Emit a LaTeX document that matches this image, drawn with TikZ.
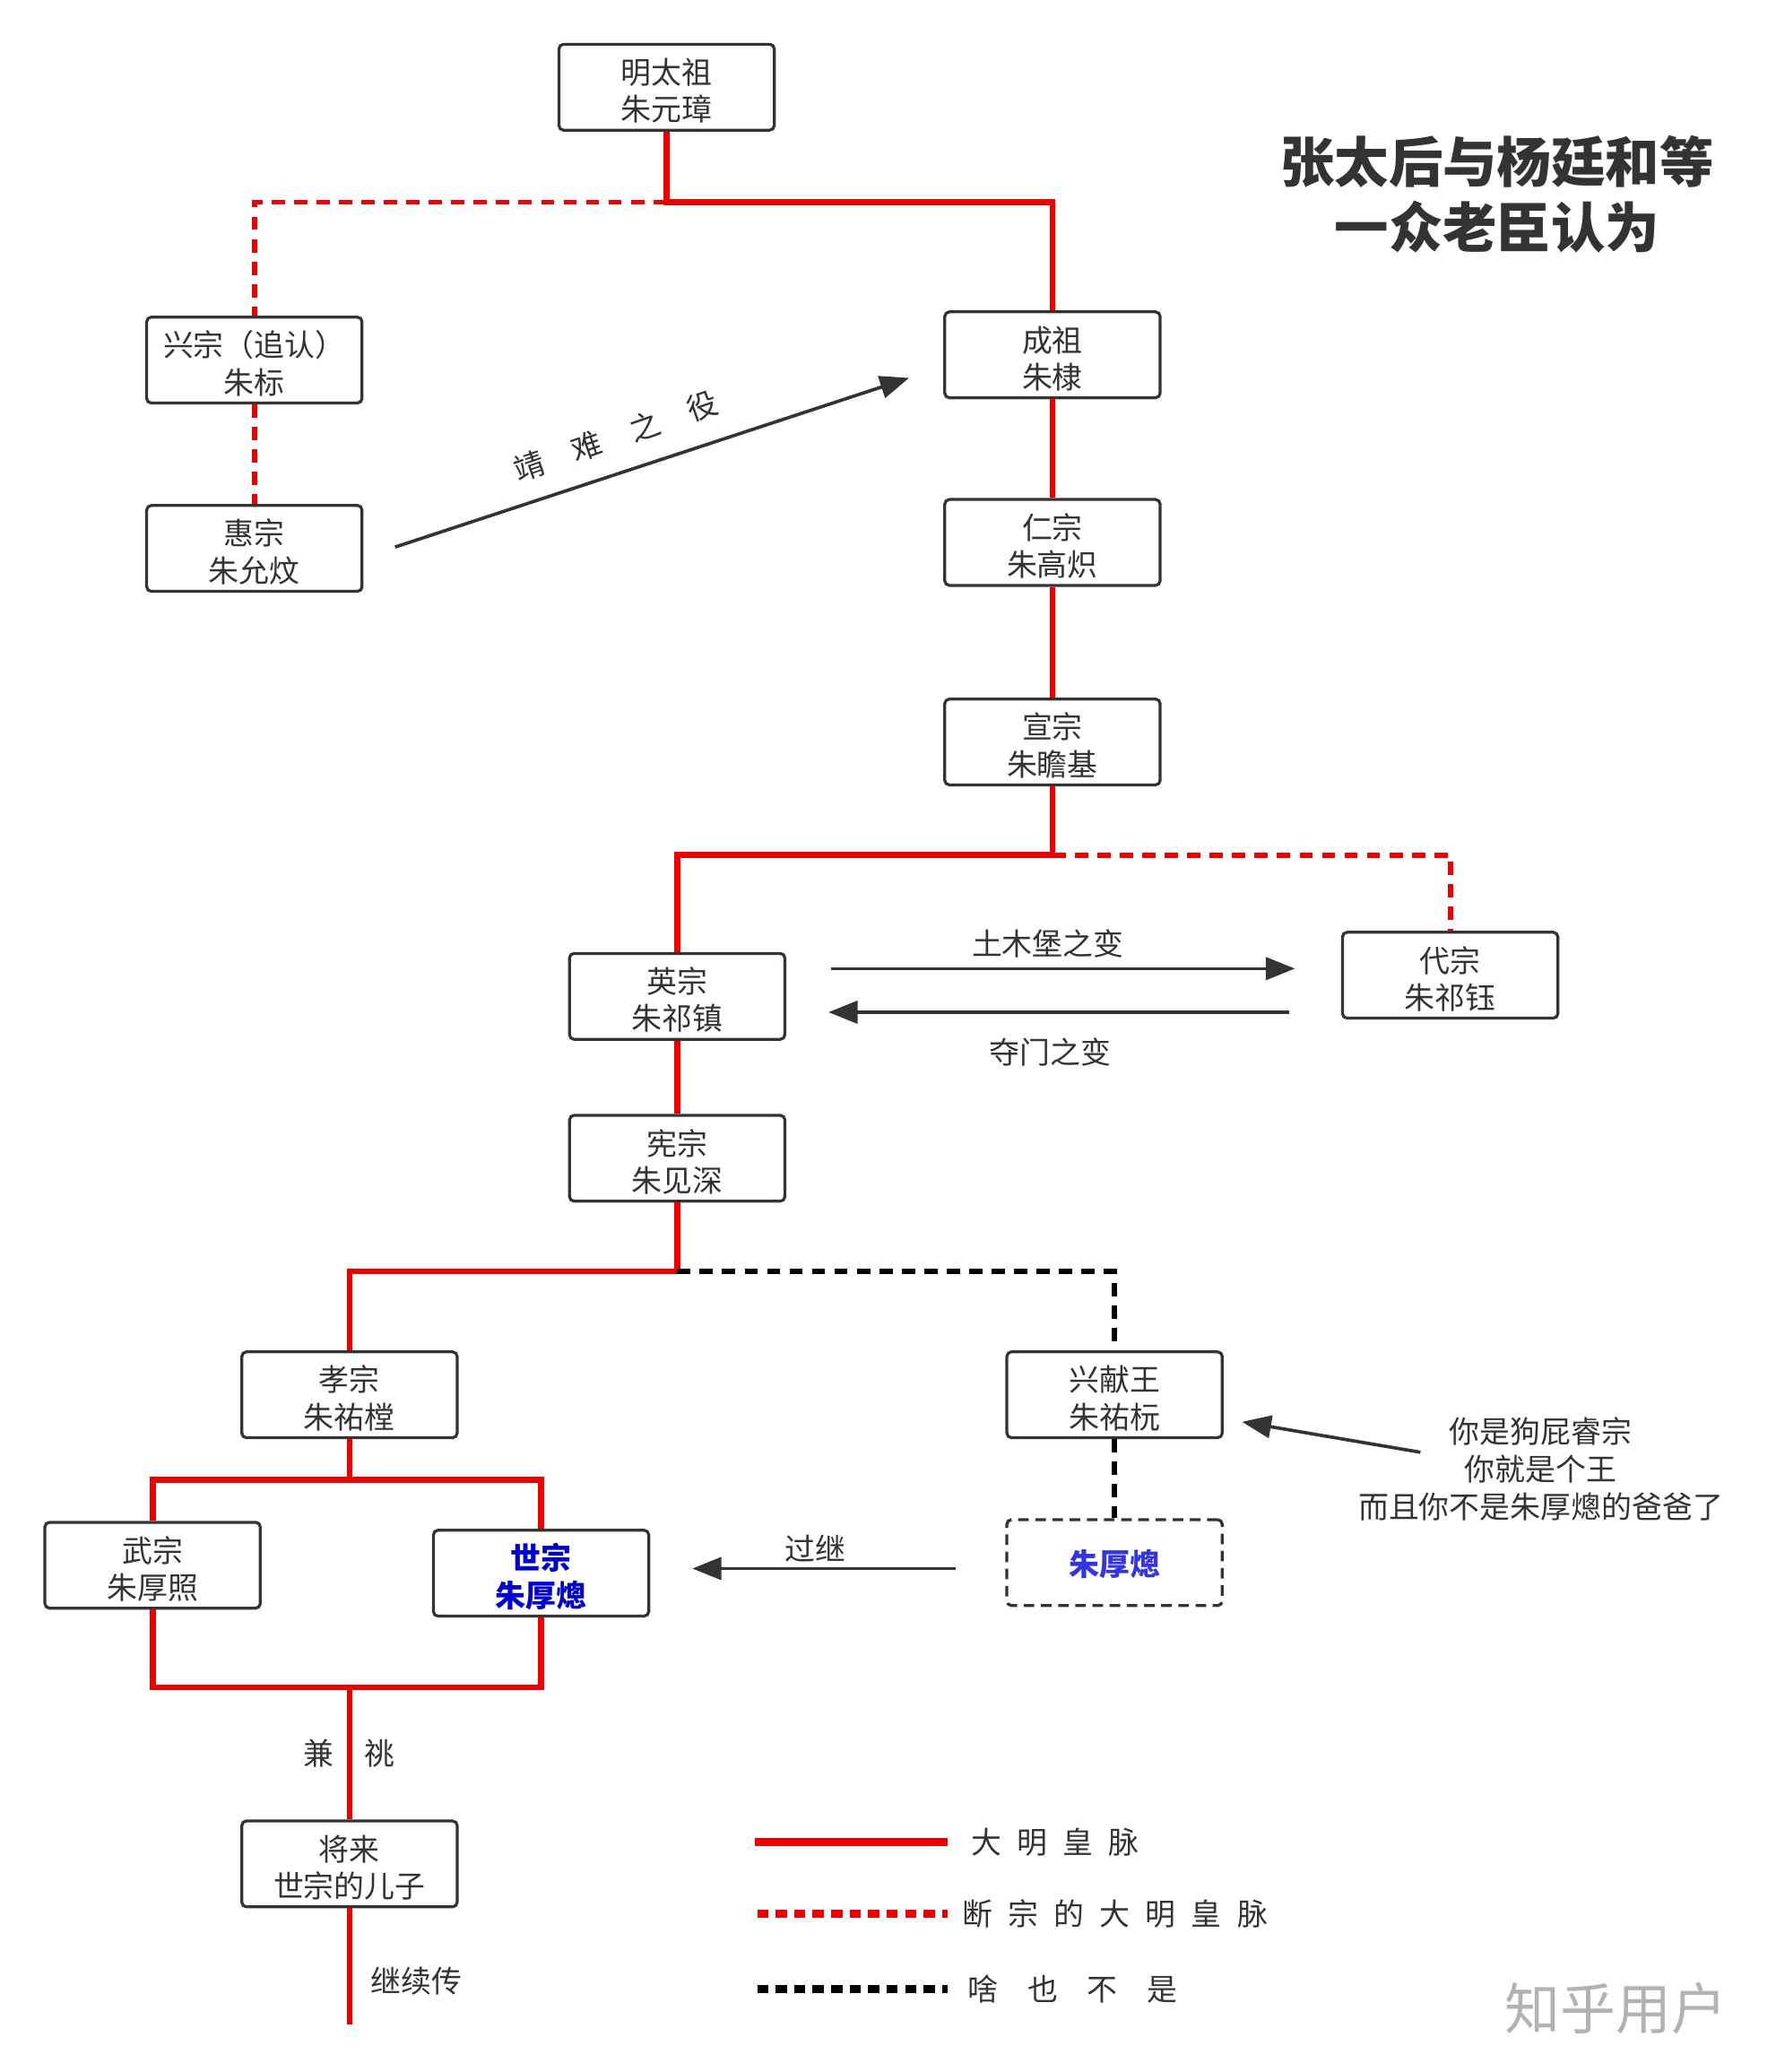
\documentclass[tikz,border=0pt]{standalone}
\usepackage{fontspec}
\setmainfont{Noto Sans CJK SC}
\usetikzlibrary{arrows.meta}
\definecolor{lred}{HTML}{EE0000}
\definecolor{bord}{HTML}{333333}
\definecolor{txt}{HTML}{333333}
\definecolor{blueA}{HTML}{0000CC}
\definecolor{blueB}{HTML}{3535DD}
\tikzset{
  box/.style={draw=bord, line width=2.2pt, rounded corners=3.5pt, minimum width=163pt,
    minimum height=65pt, align=center, fill=white, text=txt,
    font=\fontsize{23}{28}\selectfont, inner sep=0pt, text height=54pt, text depth=3pt},
  redline/.style={draw=lred, line width=4.5pt, line join=miter},
  reddash/.style={draw=lred, line width=4pt, dash pattern=on 10pt off 7pt},
  blackdash/.style={draw=black, line width=4pt, dash pattern=on 10pt off 7pt},
  garrow/.style={draw=bord, line width=2.5pt, -{Triangle[length=22pt,width=17pt]}},
  lbl/.style={text=txt, font=\fontsize{23}{28.5}\selectfont, inner sep=0pt},
}
\begin{document}
\begin{tikzpicture}[x=1pt,y=-1pt]
\fill[white] (0,0) rectangle (1344,1568);
\useasboundingbox (0,0) rectangle (1344,1568);

% title
\node[text=txt, font=\bfseries\fontsize{41}{50}\selectfont, align=center, inner sep=0pt] (title) at (1133,147) {张太后与杨廷和等\\一众老臣认为};

% boxes
\node[box] (taizu) at (504.5,66) {明太祖\\朱元璋};
\node[box] (xingzong) at (192.5,272.5) {兴宗（追认）\\朱标};
\node[box] (huizong) at (192.5,415) {惠宗\\朱允炆};
\node[box] (chengzu) at (796.5,268.5) {成祖\\朱棣};
\node[box] (renzong) at (796.5,410.5) {仁宗\\朱高炽};
\node[box] (xuanzong) at (796.5,561.5) {宣宗\\朱瞻基};
\node[box] (yingzong) at (512.5,754) {英宗\\朱祁镇};
\node[box] (daizong) at (1097.5,738) {代宗\\朱祁钰};
\node[box] (xianzong) at (512.5,876.5) {宪宗\\朱见深};
\node[box] (xiaozong) at (264.5,1055.5) {孝宗\\朱祐樘};
\node[box] (xingxian) at (843.5,1055.5) {兴献王\\朱祐杬};
\node[box] (wuzong) at (115.5,1184.5) {武宗\\朱厚照};
\node[box, text=blueA, font=\bfseries\fontsize{23}{28}\selectfont] (shizong) at (409.5,1190.5) {世宗\\朱厚熜};
\node[box, dash pattern=on 8pt off 5pt, text=blueB, font=\bfseries\fontsize{23}{28}\selectfont, text height=23pt, text depth=3pt] (houcong) at (843.5,1182.5) {朱厚熜};
\node[box] (jianglai) at (264.5,1410.5) {将来\\世宗的儿子};

% junctions
\coordinate (j1) at (504.5,153);
\coordinate (j2) at (796.5,647);
\coordinate (j3) at (512.5,962);
\coordinate (j4) at (264.5,1120);
\coordinate (j5) at (264.5,1277);
\coordinate (tail) at (264.5,1532);

% lineage lines
\draw[redline] (taizu.south) -- (j1) -| (chengzu.north);
\draw[reddash] (j1) -| (xingzong.north);
\draw[reddash] (xingzong.south) -- (huizong.north);
\draw[redline] (chengzu.south) -- (renzong.north);
\draw[redline] (renzong.south) -- (xuanzong.north);
\draw[redline] (xuanzong.south) -- (j2) -| (yingzong.north);
\draw[reddash] (j2) -| (daizong.north);
\draw[redline] (yingzong.south) -- (xianzong.north);
\draw[redline] (xianzong.south) -- (j3) -| (xiaozong.north);
\draw[blackdash] (j3) -| (xingxian.north);
\draw[redline] (xiaozong.south) -- (j4) -| (wuzong.north);
\draw[redline] (j4) -| (shizong.north);
\draw[redline] (wuzong.south) |- (j5) -| (shizong.south);
\draw[redline] (j5) -- (jianglai.north);
\draw[redline] (jianglai.south) -- (tail);
\draw[blackdash] (xingxian.south) -- (houcong.north);

% event arrows
\coordinate (jns) at (299,414);
\coordinate (jne) at (688,286);
\draw[garrow] (jns) -- (jne);
\node[lbl, rotate=19] (jnl) at (466,330) {靖\hspace{23pt}难\hspace{23pt}之\hspace{23pt}役};

\coordinate (tms) at (629,733);
\coordinate (tme) at (980,733);
\draw[garrow] (tms) -- (tme);
\node[lbl] (tml) at (793,714) {土木堡之变};

\coordinate (dms) at (976,766);
\coordinate (dme) at (627,766);
\draw[garrow] (dms) -- (dme);
\node[lbl] (dml) at (795,796) {夺门之变};

\coordinate (gjs) at (723,1187);
\coordinate (gje) at (524,1187);
\draw[garrow] (gjs) -- (gje);
\node[lbl] (gjl) at (617,1172) {过继};

\coordinate (nts) at (1075,1099);
\coordinate (nte) at (940,1076);
\draw[garrow] (nts) -- (nte);
\node[lbl, align=center] (note) at (1166,1112) {你是狗屁睿宗\\你就是个王\\而且你不是朱厚熜的爸爸了};

\node[lbl] (jt) at (264.5,1327) {兼\hspace{23pt}祧};
\node[lbl] (jxc) at (315,1499) {继续传};

% legend
\coordinate (l1a) at (571,1394);
\coordinate (l1b) at (717,1394);
\draw[draw=lred, line width=6pt] (l1a) -- (l1b);
\node[lbl, anchor=west] (lt1) at (735,1394) {大\hspace{11.5pt}明\hspace{11.5pt}皇\hspace{11.5pt}脉};
\coordinate (l2a) at (573,1448);
\coordinate (l2b) at (717,1448);
\draw[draw=lred, line width=6pt, dash pattern=on 8.5pt off 5.5pt] (l2a) -- (l2b);
\node[lbl, anchor=west] (lt2) at (728,1448) {断\hspace{11.7pt}宗\hspace{11.7pt}的\hspace{11.7pt}大\hspace{11.7pt}明\hspace{11.7pt}皇\hspace{11.7pt}脉};
\coordinate (l3a) at (573,1505);
\coordinate (l3b) at (717,1505);
\draw[draw=black, line width=6pt, dash pattern=on 8.5pt off 5.5pt] (l3a) -- (l3b);
\node[lbl, anchor=west] (lt3) at (732,1505) {啥\hspace{22.4pt}也\hspace{22.4pt}不\hspace{22.4pt}是};

% watermark
\node[text=black!30, font=\fontsize{42}{42}\selectfont, inner sep=0pt] (wm) at (1223,1520) {知乎用户};
\end{tikzpicture}
\end{document}
